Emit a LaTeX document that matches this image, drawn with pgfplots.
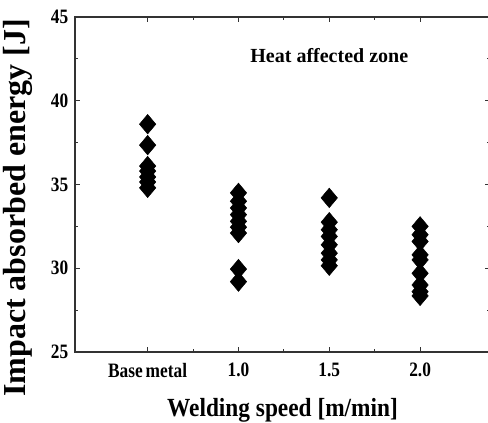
\documentclass[border=0pt]{standalone}
\usepackage{pgfplots}
\pgfplotsset{compat=1.18}
\usepackage{fontspec}
\setmainfont{Liberation Serif}

% impact energy per welding condition (x: 1 = base metal, 2 = 1.0, 3 = 1.5, 4 = 2.0)
\pgfplotstableread{
x y
1 38.6
1 37.35
1 36.1
1 35.8
1 35.45
1 35.15
1 34.8
2 34.5
2 34.0
2 33.6
2 33.2
2 32.8
2 32.45
2 32.1
2 29.95
2 29.2
3 34.2
3 32.75
3 32.3
3 31.9
3 31.4
3 30.9
3 30.5
3 30.15
4 32.5
4 32.0
4 31.6
4 30.8
4 30.5
4 29.7
4 29.0
4 28.6
4 28.35
}\impact

\begin{document}
\begin{tikzpicture}
\begin{axis}[
    scale only axis,
    width=311.25pt, height=251.25pt,
    xmin=0.2, xmax=4.77,
    ymin=25, ymax=45,
    xtick={1,2,3,4},
    xticklabels={Base\,metal,1.0,1.5,2.0},
    minor x tick num=1,
    ytick={25,30,35,40,45},
    minor y tick num=1,
    tick align=inside,
    major tick length=3.75pt,
    minor tick length=2.25pt,
    axis line style={black!80, line width=0.9pt},
    every tick/.style={black!80, line width=0.8pt},
    /pgf/number format/assume math mode=true,
    ticklabel style={font=\fontsize{13}{15}\selectfont\bfseries, yscale=1.18},
    xticklabel style={yshift=-3.5pt},
    yticklabel style={xshift=-1.5pt},
    every axis x label/.style={at={(rel axis cs:0.5,0)}, anchor=center, yshift=-43.5pt, yscale=1.12},
    every axis y label/.style={at={(axis description cs:-0.137,0.43)}, rotate=90, anchor=center},
    xlabel={\fontsize{17.5}{20}\selectfont\bfseries Welding speed [m/min]},
    ylabel={\fontsize{24}{28}\selectfont\bfseries Impact absorbed energy [J]},
]
\addplot[only marks, mark=diamond*, mark size=7.3pt, mark options={fill=black, draw=black, xscale=1.12}]
    table[x=x, y=y] {\impact};
\node[font=\fontsize{15}{17}\selectfont\bfseries] at (axis cs:3.0,42.7) {Heat affected zone};
\end{axis}
\pgfresetboundingbox
\path[use as bounding box] ([shift={(-56.25pt,-53.25pt)}]current axis.south west)
    rectangle ([shift={(-1.5pt,12.75pt)}]current axis.north east);
\end{tikzpicture}
\end{document}
